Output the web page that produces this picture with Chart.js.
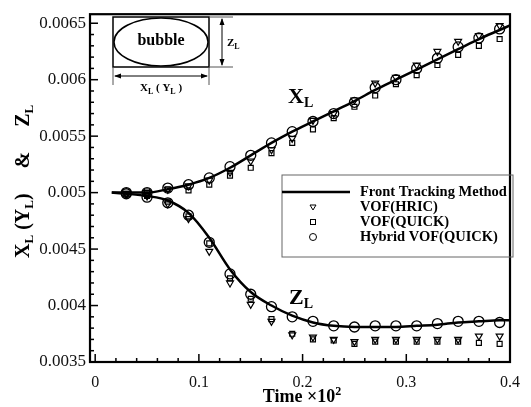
<!DOCTYPE html>
<html>
<head>
<meta charset="utf-8">
<script src="https://cdn.jsdelivr.net/npm/chart.js@4"></script>
<style>
  body { margin: 0; background: #fff; }
  canvas { display: block; }
</style>
</head>
<body>
<canvas id="chart" width="531" height="407"></canvas>
<script>
// sample times of the VOF runs (time x10^2)
var sampleTime = [0.03, 0.05, 0.07, 0.09, 0.11, 0.13, 0.15, 0.17, 0.19, 0.21,
                  0.23, 0.25, 0.27, 0.29, 0.31, 0.33, 0.35, 0.37, 0.39];

// front tracking curve
var ftTime = [0.016, 0.03, 0.05, 0.07, 0.09, 0.11, 0.13, 0.15, 0.17, 0.19, 0.21,
              0.23, 0.25, 0.27, 0.29, 0.31, 0.33, 0.35, 0.37, 0.39, 0.4];
var ftXL = [0.005, 0.005, 0.005, 0.00503, 0.00507, 0.00513, 0.00522, 0.00533, 0.00544, 0.00554, 0.00563,
            0.00572, 0.00581, 0.00591, 0.006, 0.00609, 0.00618, 0.00627, 0.00636, 0.00644, 0.00648];
var ftZL = [0.005, 0.00499, 0.00497, 0.00493, 0.00482, 0.0046, 0.00432, 0.00412, 0.004, 0.00391, 0.00385,
            0.00382, 0.00381, 0.00381, 0.00381, 0.00382, 0.00383, 0.00385, 0.00386, 0.00387, 0.00387];

// VOF(HRIC)
var hricXL = [0.00499, 0.005, 0.00503, 0.00506, 0.00511, 0.00518, 0.00528, 0.00538, 0.00548, 0.00564,
              0.0057, 0.00582, 0.00597, 0.00602, 0.00613, 0.00625, 0.00634, 0.00639, 0.00648];
var hricZL = [0.00499, 0.00497, 0.0049, 0.00477, 0.00448, 0.0042, 0.00401, 0.00386, 0.00374, 0.00372,
              0.0037, 0.00368, 0.0037, 0.0037, 0.0037, 0.0037, 0.0037, 0.00373, 0.00373];

// VOF(QUICK)
var quickXL = [0.00499, 0.00501, 0.00503, 0.00502, 0.00507, 0.00515, 0.00522, 0.00535, 0.00544, 0.00556,
               0.00566, 0.00576, 0.00586, 0.00596, 0.00604, 0.00613, 0.00622, 0.0063, 0.00636];
var quickZL = [0.00499, 0.00497, 0.00492, 0.00479, 0.00455, 0.00424, 0.00406, 0.00388, 0.00375, 0.0037,
               0.00369, 0.00366, 0.00368, 0.00368, 0.00368, 0.00368, 0.00368, 0.00367, 0.00366];

// Hybrid VOF(QUICK)
var hybridXL = [0.005, 0.005, 0.00504, 0.00507, 0.00513, 0.00523, 0.00533, 0.00544, 0.00554, 0.00563,
                0.0057, 0.0058, 0.00593, 0.006, 0.0061, 0.00619, 0.00629, 0.00637, 0.00645];
var hybridZL = [0.00499, 0.00496, 0.00491, 0.0048, 0.00456, 0.00428, 0.0041, 0.00399, 0.0039, 0.00386,
                0.00382, 0.00381, 0.00382, 0.00382, 0.00382, 0.00384, 0.00386, 0.00386, 0.00385];

// ticks
var xTicks = [];
for (var i = 0; i <= 20; i++) xTicks.push(i * 0.02);
var yTicks = [];
for (var j = 0; j <= 30; j++) yTicks.push(0.0035 + j * 0.0001);

var serif = '"Liberation Serif", "DejaVu Serif", serif';

function pts(xs, ys) {
    var out = [];
    for (var k = 0; k < xs.length; k++) out.push({ x: xs[k], y: ys[k] });
    return out;
}

var lineStyle = { showLine: true, borderColor: '#000', borderWidth: 2.5, pointRadius: 0,
                  cubicInterpolationMode: 'monotone', fill: false };
var triStyle = { pointStyle: 'triangle', rotation: 180, pointRadius: 4, borderColor: '#000',
                 backgroundColor: 'rgba(0,0,0,0)', borderWidth: 1.2, showLine: false };
var sqStyle = { pointStyle: 'rect', pointRadius: 3.5, borderColor: '#000',
                backgroundColor: 'rgba(0,0,0,0)', borderWidth: 1.2, showLine: false };
var circStyle = { pointStyle: 'circle', pointRadius: 5, borderColor: '#000',
                  backgroundColor: 'rgba(0,0,0,0)', borderWidth: 1.3, showLine: false };

var datasets = [
    Object.assign({ label: 'Front Tracking Method', data: pts(ftTime, ftXL) }, lineStyle),
    Object.assign({ label: 'Front Tracking Method ZL', data: pts(ftTime, ftZL) }, lineStyle),
    Object.assign({ label: 'VOF(HRIC)', data: pts(sampleTime, hricXL) }, triStyle),
    Object.assign({ label: 'VOF(HRIC) ZL', data: pts(sampleTime, hricZL) }, triStyle),
    Object.assign({ label: 'VOF(QUICK)', data: pts(sampleTime, quickXL) }, sqStyle),
    Object.assign({ label: 'VOF(QUICK) ZL', data: pts(sampleTime, quickZL) }, sqStyle),
    Object.assign({ label: 'Hybrid VOF(QUICK)', data: pts(sampleTime, hybridXL) }, circStyle),
    Object.assign({ label: 'Hybrid VOF(QUICK) ZL', data: pts(sampleTime, hybridZL) }, circStyle)
];

// draws text pieces, each [text, size, dy]; returns width
function drawParts(ctx, parts, x, y, measureOnly) {
    var w = 0;
    for (var p = 0; p < parts.length; p++) {
        ctx.font = 'bold ' + parts[p][1] + 'px ' + serif;
        if (!measureOnly) ctx.fillText(parts[p][0], x + w, y + (parts[p][2] || 0));
        w += ctx.measureText(parts[p][0]).width;
    }
    return w;
}
function partsCentered(ctx, parts, cx, y) {
    var w = drawParts(ctx, parts, 0, 0, true);
    drawParts(ctx, parts, cx - w / 2, y);
}

function arrowHead(ctx, x, y, dx, dy) {
    // dx,dy direction the arrow points to
    var len = 7, wid = 2.5;
    ctx.beginPath();
    ctx.moveTo(x, y);
    ctx.lineTo(x - dx * len - dy * wid, y - dy * len + dx * wid);
    ctx.lineTo(x - dx * len + dy * wid, y - dy * len - dx * wid);
    ctx.closePath();
    ctx.fill();
}

var decor = {
    id: 'decor',
    afterDraw: function (chart) {
        var ctx = chart.ctx;
        var a = chart.chartArea;
        var xs = chart.scales.x, ys = chart.scales.y;
        ctx.save();
        ctx.fillStyle = '#000';
        ctx.strokeStyle = '#000';

        // inward tick marks
        ctx.lineWidth = 1.5;
        xs.ticks.forEach(function (t) {
            var major = Math.abs(Math.round(t.value * 10) - t.value * 10) < 1e-6;
            var px = xs.getPixelForValue(t.value);
            ctx.beginPath();
            ctx.moveTo(px, a.bottom);
            ctx.lineTo(px, a.bottom - (major ? 8 : 4));
            ctx.stroke();
        });
        ys.ticks.forEach(function (t) {
            var major = Math.abs(Math.round(t.value * 2000) - t.value * 2000) < 1e-6;
            var py = ys.getPixelForValue(t.value);
            ctx.beginPath();
            ctx.moveTo(a.left, py);
            ctx.lineTo(a.left + (major ? 8 : 4), py);
            ctx.stroke();
        });

        // frame
        ctx.lineWidth = 2.2;
        ctx.strokeRect(a.left, a.top, a.right - a.left, a.bottom - a.top);

        // axis titles
        ctx.textBaseline = 'alphabetic';
        partsCentered(ctx, [['Time \u00d710', 18], ['2', 12, -7]], (a.left + a.right) / 2 + 2, 402);
        ctx.save();
        ctx.translate(29, ys.getPixelForValue(0.0051));
        ctx.rotate(-Math.PI / 2);
        partsCentered(ctx, [['X', 20], ['L', 13, 4], [' (Y', 20], ['L', 13, 4], [')     &     Z', 20], ['L', 13, 4]], 0, 0);
        ctx.restore();

        // curve labels
        drawParts(ctx, [['X', 22], ['L', 14, 4]], 288, 103);
        drawParts(ctx, [['Z', 22], ['L', 14, 4]], 289, 304);

        // legend box
        var lx = 282, ly = 175, lw = 231, lh = 82;
        ctx.lineWidth = 1;
        ctx.strokeStyle = '#666';
        ctx.strokeRect(lx, ly, lw, lh);
        ctx.strokeStyle = '#000';
        var rows = [192, 207, 222, 237];
        var names = [datasets[0].label, datasets[2].label, datasets[4].label, datasets[6].label];
        ctx.textBaseline = 'middle';
        ctx.font = 'bold 14.5px ' + serif;
        names.forEach(function (n, r) {
            ctx.fillText(n, 360, rows[r]);
        });
        ctx.lineWidth = 2.5;
        ctx.beginPath();
        ctx.moveTo(282, rows[0]);
        ctx.lineTo(350, rows[0]);
        ctx.stroke();
        ctx.lineWidth = 1;
        var mx = 313;
        ctx.beginPath();
        ctx.moveTo(mx - 3, rows[1] - 2);
        ctx.lineTo(mx + 3, rows[1] - 2);
        ctx.lineTo(mx, rows[1] + 3);
        ctx.closePath();
        ctx.stroke();
        ctx.strokeRect(mx - 2.5, rows[2] - 2.5, 5, 5);
        ctx.beginPath();
        ctx.arc(mx, rows[3], 3.5, 0, Math.PI * 2);
        ctx.stroke();

        // bubble inset
        var bx = 113, by = 17, bw = 96, bh = 50;
        ctx.lineWidth = 1.5;
        ctx.strokeRect(bx, by, bw, bh);
        ctx.beginPath();
        ctx.ellipse(bx + bw / 2, by + bh / 2, bw / 2 - 1, bh / 2 - 1, 0, 0, Math.PI * 2);
        ctx.stroke();
        ctx.textBaseline = 'middle';
        ctx.textAlign = 'center';
        ctx.font = 'bold 16px ' + serif;
        ctx.fillText('bubble', bx + bw / 2, by + bh / 2 - 1);
        ctx.textAlign = 'left';

        // Z_L dimension
        ctx.lineWidth = 1;
        ctx.strokeStyle = '#555';
        ctx.beginPath();
        ctx.moveTo(bx + bw, by); ctx.lineTo(bx + bw + 24, by);
        ctx.moveTo(bx + bw, by + bh); ctx.lineTo(bx + bw + 24, by + bh);
        ctx.stroke();
        ctx.strokeStyle = '#000';
        ctx.beginPath();
        ctx.moveTo(bx + bw + 13, by + 2); ctx.lineTo(bx + bw + 13, by + bh - 2);
        ctx.stroke();
        arrowHead(ctx, bx + bw + 13, by + 1, 0, -1);
        arrowHead(ctx, bx + bw + 13, by + bh - 1, 0, 1);
        ctx.textBaseline = 'alphabetic';
        drawParts(ctx, [['Z', 11], ['L', 8, 3]], bx + bw + 18, by + bh / 2 + 4);

        // X_L dimension
        ctx.strokeStyle = '#555';
        ctx.beginPath();
        ctx.moveTo(bx, by + bh); ctx.lineTo(bx, by + bh + 18);
        ctx.moveTo(bx + bw, by + bh); ctx.lineTo(bx + bw, by + bh + 18);
        ctx.stroke();
        ctx.strokeStyle = '#000';
        ctx.beginPath();
        ctx.moveTo(bx + 2, by + bh + 9); ctx.lineTo(bx + bw - 2, by + bh + 9);
        ctx.stroke();
        arrowHead(ctx, bx + 1, by + bh + 9, -1, 0);
        arrowHead(ctx, bx + bw - 1, by + bh + 9, 1, 0);
        partsCentered(ctx, [['X', 11], ['L', 8, 3], [' ( Y', 11], ['L', 8, 3], [' )', 11]], bx + bw / 2, by + bh + 24);

        ctx.restore();
    }
};

var chart = new Chart(document.getElementById('chart'), {
    type: 'scatter',
    data: { datasets: datasets },
    options: {
        responsive: false,
        animation: false,
        layout: { padding: { top: 7, right: 14, left: 0, bottom: 0 } },
        plugins: { legend: { display: false }, tooltip: { enabled: false } },
        scales: {
            x: {
                type: 'linear', min: -0.005, max: 0.4,
                afterBuildTicks: function (s) { s.ticks = xTicks.map(function (v) { return { value: v }; }); },
                afterFit: function (s) { s.height = 45; },
                grid: { display: false, drawTicks: false },
                border: { display: false },
                ticks: {
                    autoSkip: false, maxRotation: 0, padding: 11, color: '#111',
                    font: { family: serif, size: 16 },
                    callback: function (v) {
                        var r = Math.round(v * 10);
                        return Math.abs(r - v * 10) < 1e-6 ? String(r / 10) : '';
                    }
                }
            },
            y: {
                type: 'linear', min: 0.0035, max: 0.00658,
                afterBuildTicks: function (s) { s.ticks = yTicks.map(function (v) { return { value: v }; }); },
                afterFit: function (s) { s.width = 90; },
                grid: { display: false, drawTicks: false },
                border: { display: false },
                ticks: {
                    autoSkip: false, padding: 4, color: '#111',
                    font: { family: serif, size: 17 },
                    callback: function (v) {
                        var r = Math.round(v * 2000);
                        return Math.abs(r - v * 2000) < 1e-6 ? String(Math.round(v * 10000) / 10000) : '';
                    }
                }
            }
        }
    },
    plugins: [decor]
});
</script>
</body>
</html>
